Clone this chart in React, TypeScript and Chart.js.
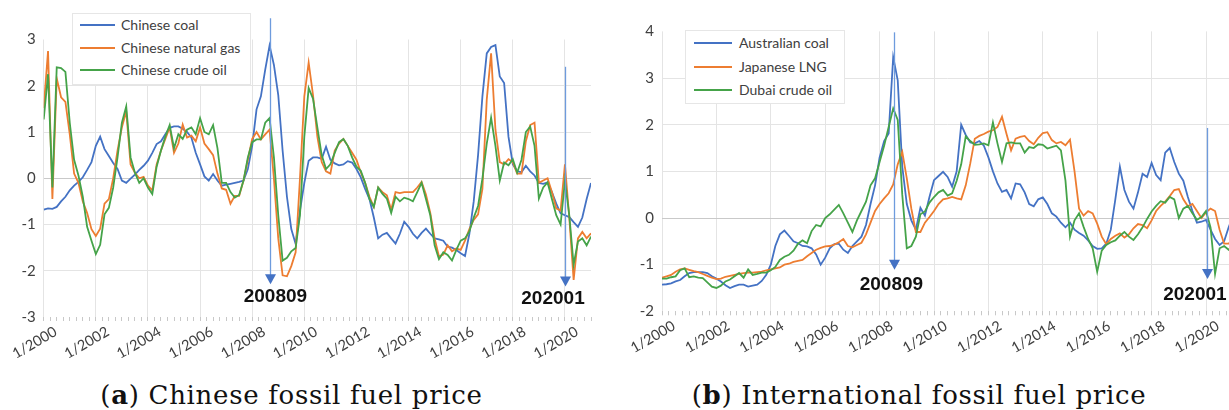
import React, { useEffect, useRef } from 'react';
import { Chart, registerables } from 'chart.js';

Chart.register(...registerables);
Chart.defaults.font.family = 'Lato, "Open Sans", sans-serif';

// Month index since 1/2000, one sample every second month (Jan 2000 .. Jan 2021)
const MONTHS: number[] = Array.from({ length: 127 }, (_, i) => i * 2);
// Positions of the small quarterly axis tick marks (month index)
const AXIS_TICK_MONTHS: number[] = Array.from({ length: 85 }, (_, i) => i * 3);
const X_TICK_LABELS = ['1/2000', '1/2002', '1/2004', '1/2006', '1/2008', '1/2010', '1/2012', '1/2014', '1/2016', '1/2018', '1/2020'];

// ---------- (a) Chinese fossil fuel price ----------
const CN_COAL = [
  -0.68, -0.65, -0.66, -0.62, -0.5, -0.4, -0.26, -0.16, -0.08, 0.02, 0.18, 0.35,
  0.7, 0.9, 0.63, 0.48, 0.33, 0.2, -0.05, -0.1, -0.01, 0.08, 0.18, 0.27,
  0.38, 0.55, 0.74, 0.8, 0.95, 1.09, 1.12, 1.12, 1.07, 1.0, 0.88, 0.55,
  0.3, 0.04, -0.05, 0.09, -0.05, -0.16, -0.14, -0.12, -0.1, -0.08, -0.05, 0.2,
  0.7, 1.49, 1.77, 2.35, 2.87, 2.45, 1.8, 0.6, -0.4, -1.1, -1.42, -0.7,
  -0.1, 0.38, 0.45, 0.45, 0.42, 0.68, 0.4, 0.32, 0.28, 0.3, 0.37, 0.34,
  0.2, 0.02, -0.23, -0.45, -0.85, -1.3, -1.22, -1.18, -1.3, -1.41, -1.2, -0.94,
  -1.05, -1.2, -1.3, -1.18, -1.09, -1.2, -1.3, -1.32, -1.35, -1.48, -1.5, -1.55,
  -1.62, -1.68, -1.2, -0.5, 0.5, 1.77, 2.7, 2.84, 2.88, 2.2, 2.06, 0.9,
  0.3, 0.15, 0.13, 0.27, 0.15, 0.06, -0.1, -0.12, -0.09, -0.3, -0.55, -0.76,
  -0.8, -0.84, -0.95, -1.05, -0.85, -0.45, -0.1,
];
const CN_GAS = [
  1.52, 2.75, -0.45, 2.16, 1.75, 1.65, 0.95, 0.1, -0.1, -0.5, -0.75, -1.1,
  -1.25, -1.09, -0.55, -0.45, 0.0, 0.6, 1.1, 1.45, 0.3, 0.12, 0.0, 0.03,
  -0.16, -0.26, 0.3, 0.6, 0.85, 1.1, 0.55, 0.75, 1.16, 0.88, 0.92, 0.8,
  1.1, 0.75, 0.63, 0.5, 0.1, -0.22, -0.25, -0.55, -0.38, -0.38, -0.05, 0.4,
  0.85, 1.0, 0.84, 0.95, 1.05, -0.01, -1.3, -2.1, -2.12, -1.9, -1.6, 0.0,
  1.77, 2.5, 1.8, 0.9, 0.35, 0.15, 0.1, 0.6, 0.75, 0.85, 0.7, 0.55,
  0.4, 0.13, -0.1, -0.4, -0.62, -0.2, -0.3, -0.37, -0.68, -0.3, -0.32, -0.3,
  -0.3, -0.3, -0.2, -0.08, -0.35, -0.75, -1.3, -1.69, -1.65, -1.45, -1.58, -1.52,
  -1.55, -1.35, -1.1, -0.9, -0.78, -0.23, 1.7, 2.7, 1.05, 0.35, 0.3, 0.41,
  0.35, 0.1, 0.1, 0.8, 1.15, 1.2, -0.1, -0.05, 0.0, -0.3, -0.65, -0.7,
  0.3, -0.85, -2.2, -1.3, -1.16, -1.3, -1.19,
];
const CN_OIL = [
  1.27, 2.25, -0.2, 2.4, 2.38, 2.3, 1.2, 0.4, 0.06, -0.4, -1.05, -1.35,
  -1.64, -1.44, -0.78, -0.64, -0.2, 0.45, 1.2, 1.55, 0.45, 0.12, -0.1, 0.0,
  -0.2, -0.34, 0.25, 0.6, 0.9, 1.15, 0.65, 0.95, 0.85, 1.05, 1.1, 0.95,
  1.3, 1.0, 0.95, 1.15, 0.65, -0.1, -0.1, -0.3, -0.42, -0.36, -0.05, 0.45,
  0.78, 0.84, 0.84, 1.2, 1.3, 0.45, -0.8, -1.78, -1.72, -1.58, -1.51, -0.8,
  0.9, 1.95, 1.72, 1.1, 0.5, 0.2, 0.3, 0.55, 0.78, 0.85, 0.7, 0.45,
  0.25, 0.16, -0.1, -0.45, -0.62, -0.2, -0.34, -0.44, -0.75, -0.4, -0.5, -0.42,
  -0.45, -0.5, -0.3, -0.1, -0.45, -0.8, -1.45, -1.75, -1.6, -1.66, -1.78, -1.55,
  -1.35, -1.3, -1.15, -0.85, -0.6, -0.01, 0.75, 1.31, 0.7, -0.05, 0.34, 0.28,
  0.41, 0.12, 0.4, 1.0, 1.12, 0.7, -0.44, -0.2, -0.09, -0.45, -0.8, -1.0,
  -0.05, -0.8, -1.87, -1.37, -1.3, -1.45, -1.26,
];

// ---------- (b) International fossil fuel price ----------
const AU_COAL = [
  -1.43, -1.42, -1.4, -1.36, -1.33, -1.25, -1.18, -1.16, -1.16, -1.16, -1.18, -1.25,
  -1.3, -1.36, -1.44, -1.5, -1.46, -1.43, -1.43, -1.47, -1.45, -1.43, -1.35, -1.22,
  -1.0, -0.6, -0.35, -0.27, -0.38, -0.5, -0.54, -0.6, -0.61, -0.65, -0.78, -1.0,
  -0.85, -0.65, -0.56, -0.55, -0.68, -0.75, -0.6, -0.5, -0.4, -0.15, 0.3, 0.7,
  1.3, 1.65, 1.81, 3.45, 2.95, 1.1, 0.3, -0.05, -0.25, 0.22, 0.05, 0.45,
  0.81, 0.9, 0.99, 0.88, 0.67, 1.0, 2.0, 1.78, 1.62, 1.6, 1.65, 1.55,
  1.3, 1.0, 0.74, 0.56, 0.6, 0.42, 0.74, 0.72, 0.55, 0.3, 0.25, 0.4,
  0.44, 0.3, 0.1, 0.03, -0.1, -0.2, -0.1, -0.25, -0.32, -0.38, -0.48, -0.6,
  -0.66, -0.65, -0.55, -0.25, 0.4, 1.1, 0.6, 0.35, 0.2, 0.55, 0.95, 0.88,
  1.18, 0.92, 0.81, 1.4, 1.5, 1.2, 0.95, 0.8, 0.45, 0.15, -0.1, -0.08,
  -0.04, -0.25, -0.45, -0.58, -0.5, -0.2, 0.05,
];
const JP_LNG = [
  -1.28, -1.25, -1.22, -1.15, -1.1, -1.08, -1.11, -1.14, -1.16, -1.2, -1.24, -1.28,
  -1.31, -1.3, -1.26, -1.24, -1.22, -1.2, -1.18, -1.17, -1.17, -1.16, -1.15, -1.12,
  -1.1, -1.08, -1.06, -1.0, -0.98, -0.94, -0.92, -0.9, -0.82, -0.75, -0.68, -0.64,
  -0.61, -0.6, -0.57, -0.52, -0.45, -0.6, -0.63, -0.58, -0.53, -0.35, -0.1, 0.15,
  0.3, 0.42, 0.53, 0.72, 1.15, 1.42, 0.85, 0.2, -0.3, -0.3, -0.1, 0.02,
  0.15, 0.3, 0.4, 0.42, 0.45, 0.42, 0.4, 0.7, 1.17, 1.7, 1.76, 1.8,
  1.85, 1.88, 1.95, 2.17, 1.8, 1.45, 1.7, 1.74, 1.76, 1.65, 1.58, 1.72,
  1.82, 1.84, 1.67, 1.6, 1.63, 1.56, 1.68, 1.0, 0.2, 0.05, 0.15, 0.1,
  -0.12, -0.4, -0.56, -0.45, -0.38, -0.33, -0.42, -0.35, -0.22, -0.13, -0.15, -0.22,
  -0.05, 0.15, 0.26, 0.35, 0.47, 0.6, 0.62, 0.4, 0.25, 0.3, 0.15, 0.0,
  0.12, 0.2, 0.15, -0.25, -0.55, -0.55, -0.45,
];
const DUBAI_OIL = [
  -1.3, -1.3, -1.27, -1.25, -1.12, -1.08, -1.27, -1.25, -1.28, -1.29, -1.38, -1.47,
  -1.5, -1.45, -1.36, -1.32, -1.25, -1.18, -1.28, -1.1, -1.22, -1.2, -1.17, -1.17,
  -1.12, -1.05, -0.9, -0.83, -0.79, -0.7, -0.55, -0.48, -0.54, -0.28, -0.15, -0.18,
  0.0, 0.08, 0.18, 0.28, 0.1, -0.1, -0.3, -0.05, 0.15, 0.35, 0.7, 0.85,
  1.2, 1.55, 1.95, 2.35, 2.1, 0.5, -0.65, -0.6, -0.4, 0.08, 0.14, 0.33,
  0.45, 0.55, 0.6, 0.48, 0.53, 0.8, 1.15, 1.75, 1.65, 1.57, 1.58, 1.6,
  1.56, 2.05, 1.6, 1.2, 1.6, 1.62, 1.6, 1.6, 1.4, 1.52, 1.5, 1.58,
  1.57, 1.49, 1.52, 1.55, 1.45, 0.8, -0.4, -0.05, 0.1, -0.19, -0.45, -0.65,
  -1.15, -0.7, -0.58, -0.52, -0.48, -0.38, -0.3, -0.4, -0.47, -0.35, -0.2, -0.02,
  0.14, 0.26, 0.36, 0.33, 0.45, 0.4, 0.0, 0.2, 0.26, 0.1, -0.04, 0.02,
  0.15, -0.2, -1.2, -0.65, -0.6, -0.68, -0.6,
];

// ---------- event arrows ----------
const ARROW_LABELS = ['200809', '202001'];
const ARROW_MONTHS_A = [104.2, 240];
const ARROW_TOP_A = [3.46, 2.41];
const ARROW_TIP_A = [-2.29, -2.34];
const ARROW_LABEL_MONTH_A = [106.7, 234.5];
const ARROW_LABEL_VALUE_A = [-2.57, -2.6];

const ARROW_MONTHS_B = [102.2, 240.4];
const ARROW_TOP_B = [3.98, 1.93];
const ARROW_TIP_B = [-1.11, -1.31];
const ARROW_LABEL_MONTH_B = [101.2, 235.1];
const ARROW_LABEL_VALUE_B = [-1.43, -1.65];

const BLUE = '#4472C4';
const ORANGE = '#ED7D31';
const GREEN = '#45A349';

type Series = { name: string; values: number[]; color: string };
type Arrows = { months: number[]; tops: number[]; tips: number[]; labels: string[]; labelMonths: number[]; labelValues: number[] };
type Spec = {
  left: number; width: number; height: number; padTop: number; padRight: number;
  yWidth: number; xHeight: number; yMin: number; yMax: number; series: Series[]; arrows: Arrows;
};

const PANEL_A: Spec = {
  left: 0, width: 605, height: 360, padTop: 39.5, padRight: 14, yWidth: 43.7, xHeight: 43, yMin: -3, yMax: 3,
  series: [
    { name: 'Chinese coal', values: CN_COAL, color: BLUE },
    { name: 'Chinese natural gas', values: CN_GAS, color: ORANGE },
    { name: 'Chinese crude oil', values: CN_OIL, color: GREEN },
  ],
  arrows: { months: ARROW_MONTHS_A, tops: ARROW_TOP_A, tips: ARROW_TIP_A, labels: ARROW_LABELS, labelMonths: ARROW_LABEL_MONTH_A, labelValues: ARROW_LABEL_VALUE_A },
};

const PANEL_B: Spec = {
  left: 615, width: 640, height: 360, padTop: 31.4, padRight: 21.8, yWidth: 47, xHeight: 48.7, yMin: -2, yMax: 4,
  series: [
    { name: 'Australian coal', values: AU_COAL, color: BLUE },
    { name: 'Japanese LNG', values: JP_LNG, color: ORANGE },
    { name: 'Dubai crude oil', values: DUBAI_OIL, color: GREEN },
  ],
  arrows: { months: ARROW_MONTHS_B, tops: ARROW_TOP_B, tips: ARROW_TIP_B, labels: ARROW_LABELS, labelMonths: ARROW_LABEL_MONTH_B, labelValues: ARROW_LABEL_VALUE_B },
};

function arrowPlugin(a: Arrows) {
  return {
    id: 'eventArrows',
    afterDatasetsDraw(chart: any) {
      const ctx = chart.ctx;
      const xs = chart.scales.x;
      const ys = chart.scales.y;
      for (let i = 0; i < a.months.length; i++) {
        const px = Math.round(xs.getPixelForValue(a.months[i])) + 0.5;
        const yTop = ys.getPixelForValue(a.tops[i]);
        const yTip = ys.getPixelForValue(a.tips[i]);
        ctx.save();
        ctx.strokeStyle = '#6E9BDD';
        ctx.lineWidth = 1.3;
        ctx.beginPath();
        ctx.moveTo(px, yTop);
        ctx.lineTo(px, yTip - 8);
        ctx.stroke();
        ctx.fillStyle = BLUE;
        ctx.beginPath();
        ctx.moveTo(px - 5.5, yTip - 10);
        ctx.lineTo(px + 5.5, yTip - 10);
        ctx.lineTo(px, yTip);
        ctx.closePath();
        ctx.fill();
        ctx.fillStyle = '#111';
        ctx.font = 'bold 19px "Liberation Sans", Arial, sans-serif';
        ctx.textAlign = 'center';
        ctx.textBaseline = 'middle';
        ctx.fillText(a.labels[i], xs.getPixelForValue(a.labelMonths[i]), ys.getPixelForValue(a.labelValues[i]));
        ctx.restore();
      }
    },
  };
}

function buildConfig(spec: Spec): any {
  const n = spec.series.length;
  return {
    type: 'line',
    data: {
      datasets: spec.series.map((s, i) => ({
        label: s.name,
        data: MONTHS.map((m, j) => ({ x: m, y: s.values[j] })),
        borderColor: s.color,
        backgroundColor: s.color,
        borderWidth: 1.8,
        pointRadius: 0,
        tension: 0,
        fill: false,
        order: n - 1 - i,
      })),
    },
    options: {
      responsive: false,
      animation: false,
      events: [],
      layout: { padding: { top: spec.padTop, right: spec.padRight, left: 0, bottom: 0 } },
      plugins: { legend: { display: false }, tooltip: { enabled: false } },
      scales: {
        x: {
          type: 'linear',
          min: 0,
          max: 252,
          afterBuildTicks: (scale: any) => {
            scale.ticks = AXIS_TICK_MONTHS.map((v) => ({ value: v }));
          },
          afterFit: (scale: any) => {
            scale.height = spec.xHeight;
            scale.paddingLeft = 0;
            scale.paddingRight = 0;
          },
          ticks: {
            autoSkip: false,
            minRotation: 30,
            maxRotation: 30,
            labelOffset: 12,
            padding: 2,
            color: '#404040',
            font: { size: 14.5 },
            callback: (v: number) => (v % 24 === 0 ? X_TICK_LABELS[v / 24] : ''),
          },
          grid: {
            color: (c: any) => (c.tick && c.tick.value % 24 === 0 ? '#e4e4e4' : 'rgba(0,0,0,0)'),
            tickColor: '#c8c8c8',
            tickLength: 4,
            lineWidth: 1,
          },
          border: { display: false },
        },
        y: {
          min: spec.yMin,
          max: spec.yMax,
          afterFit: (scale: any) => {
            scale.width = spec.yWidth;
            scale.paddingTop = 0;
            scale.paddingBottom = 0;
          },
          ticks: { stepSize: 1, padding: 8, color: '#404040', font: { size: 15 } },
          grid: {
            drawTicks: false,
            color: (c: any) => {
              const v = c.tick ? c.tick.value : NaN;
              if (v === 0) return '#c9c9c9';
              if (v === spec.yMin || v === spec.yMax) return 'rgba(0,0,0,0)';
              return '#e4e4e4';
            },
          },
          border: { display: false },
        },
      },
    },
    plugins: [arrowPlugin(spec.arrows)],
  };
}

function Panel({ spec }: { spec: Spec }) {
  const ref = useRef<HTMLCanvasElement | null>(null);
  useEffect(() => {
    if (!ref.current) return;
    const chart = new Chart(ref.current, buildConfig(spec));
    return () => chart.destroy();
  }, [spec]);
  return (
    <canvas
      ref={ref}
      width={spec.width}
      height={spec.height}
      style={{ position: 'absolute', left: spec.left, top: 0, width: spec.width, height: spec.height }}
    />
  );
}

type LegendSpec = { left: number; top: number; width: number; height: number; sampleLeft: number; sampleWidth: number; textLeft: number; rows: number[]; series: Series[] };

const LEGEND_A: LegendSpec = { left: 72, top: 12.5, width: 179, height: 72.5, sampleLeft: 80, sampleWidth: 35, textLeft: 121, rows: [24.5, 47.5, 70], series: PANEL_A.series };
const LEGEND_B: LegendSpec = { left: 685, top: 30, width: 160, height: 74, sampleLeft: 694, sampleWidth: 38, textLeft: 739, rows: [43.3, 66.7, 90], series: PANEL_B.series };

function Legend({ spec }: { spec: LegendSpec }) {
  return (
    <>
      <div
        style={{
          position: 'absolute', left: spec.left, top: spec.top, width: spec.width, height: spec.height,
          background: '#fff', border: '1px solid #e6e6e6', boxSizing: 'border-box',
        }}
      />
      {spec.series.map((s, i) => (
        <React.Fragment key={s.name}>
          <div style={{ position: 'absolute', left: spec.sampleLeft, top: spec.rows[i] - 1, width: spec.sampleWidth, height: 2, background: s.color }} />
          <div
            style={{
              position: 'absolute', left: spec.textLeft, top: spec.rows[i] - 10, height: 20, lineHeight: '20px',
              fontFamily: 'Lato, "Open Sans", sans-serif', fontSize: 14, color: '#404040', whiteSpace: 'nowrap',
            }}
          >
            {s.name}
          </div>
        </React.Fragment>
      ))}
    </>
  );
}

function Caption({ center, letter, text }: { center: number; letter: string; text: string }) {
  return (
    <div
      style={{
        position: 'absolute', left: center - 300, width: 600, top: 380, height: 30, lineHeight: '30px', textAlign: 'center',
        fontFamily: '"DejaVu Serif", serif', fontSize: 26, letterSpacing: 0.7, color: '#111', whiteSpace: 'nowrap',
      }}
    >
      (<b>{letter}</b>) {text}
    </div>
  );
}

export default function App() {
  return (
    <div style={{ position: 'fixed', left: 0, top: 0, width: 1229, height: 410, overflow: 'hidden', background: '#fff' }}>
      <Panel spec={PANEL_A} />
      <Panel spec={PANEL_B} />
      <Legend spec={LEGEND_A} />
      <Legend spec={LEGEND_B} />
      <Caption center={291.5} letter="a" text="Chinese fossil fuel price" />
      <Caption center={919} letter="b" text="International fossil fuel price" />
    </div>
  );
}
